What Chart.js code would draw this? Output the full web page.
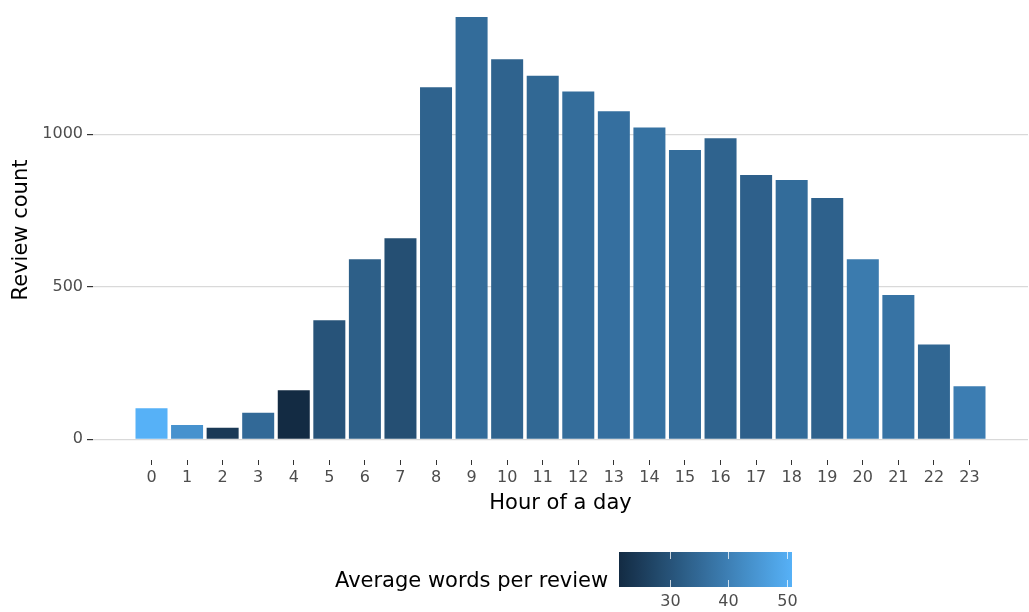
<!DOCTYPE html>
<html>
<head>
<meta charset="utf-8">
<script src="https://cdn.jsdelivr.net/npm/chart.js@4.4.0/dist/chart.umd.min.js"></script>
<style>
  html, body { margin: 0; padding: 0; background: #ffffff; }
  #wrap { width: 1029px; height: 612px; }
</style>
</head>
<body>
<div id="wrap"><canvas id="chart" width="1029" height="612"></canvas></div>
<script>
// hour of the day, review count, average words per review (fill colour)
var hours = [0, 1, 2, 3, 4, 5, 6, 7, 8, 9, 10, 11, 12, 13, 14, 15, 16, 17, 18, 19, 20, 21, 22, 23];
var reviewCounts = [102, 47, 38, 87, 161, 390, 590, 659, 1154, 1384, 1246, 1192,
                    1140, 1075, 1022, 948, 987, 866, 850, 791, 590, 473, 311, 174];
var avgWords = [50.9, 44.1, 24.5, 35.1, 21.3, 30.1, 32.7, 29.2, 33.6, 35.6, 33.6, 34.7,
                35.8, 36.4, 36.9, 35.8, 33.6, 33.1, 35.6, 33.3, 38.9, 37.3, 34.5, 39.5];
var yTicks = [0, 500, 1000];
var legendTicks = [30, 40, 50];

var FONT = '"DejaVu Sans", "Liberation Sans", sans-serif';
var LOW = [0x13, 0x2B, 0x43];
var HIGH = [0x56, 0xB1, 0xF7];
var wordsMin = Math.min.apply(null, avgWords);
var wordsMax = Math.max.apply(null, avgWords);

function fillFor(v) {
    var t = (v - wordsMin) / (wordsMax - wordsMin);
    t = Math.max(0, Math.min(1, t));
    var c = [];
    for (var k = 0; k < 3; k++) {
        c.push(Math.round(LOW[k] + (HIGH[k] - LOW[k]) * t));
    }
    return 'rgb(' + c.join(',') + ')';
}

// colourbar legend under the plot, drawn by hand
var colourLegend = {
    id: 'colourLegend',
    afterDraw: function(chart) {
        var ctx = chart.ctx;
        var left = 619, right = 792, top = 552, bottom = 587;

        ctx.save();
        ctx.fillStyle = '#000000';
        ctx.font = '21px ' + FONT;
        ctx.textAlign = 'left';
        ctx.textBaseline = 'alphabetic';
        ctx.fillText('Average words per review', 335, 587);

        var grad = ctx.createLinearGradient(left, 0, right, 0);
        for (var i = 0; i <= 20; i++) {
            grad.addColorStop(i / 20, fillFor(wordsMin + (wordsMax - wordsMin) * i / 20));
        }
        ctx.fillStyle = grad;
        ctx.fillRect(left, top, right - left, bottom - top);

        ctx.strokeStyle = 'rgba(255,255,255,0.75)';
        ctx.lineWidth = 1;
        ctx.fillStyle = '#4d4d4d';
        ctx.font = '16px ' + FONT;
        ctx.textAlign = 'center';
        ctx.textBaseline = 'top';
        legendTicks.forEach(function(v) {
            var x = Math.round(left + (v - wordsMin) / (wordsMax - wordsMin) * (right - left)) + 0.5;
            ctx.beginPath();
            ctx.moveTo(x, top);
            ctx.lineTo(x, top + 7);
            ctx.moveTo(x, bottom - 7);
            ctx.lineTo(x, bottom);
            ctx.stroke();
            ctx.fillText(String(v), x, 594);
        });
        ctx.restore();
    }
};

new Chart(document.getElementById('chart'), {
    type: 'bar',
    data: {
        datasets: [{
            data: hours.map(function(h, i) { return {x: h, y: reviewCounts[i]}; }),
            backgroundColor: avgWords.map(fillFor),
            borderWidth: 0,
            categoryPercentage: 0.9,
            barPercentage: 1.0
        }]
    },
    options: {
        responsive: false,
        animation: false,
        layout: {padding: {left: 0, right: 1, top: 0, bottom: 92}},
        plugins: {
            legend: {display: false},
            tooltip: {enabled: false}
        },
        scales: {
            x: {
                type: 'linear',
                min: -1.645,
                max: 24.645,
                offset: false,
                afterBuildTicks: function(scale) {
                    scale.ticks = hours.map(function(h) { return {value: h}; });
                },
                afterFit: function(scale) {
                    scale.height = 60;
                    scale.paddingLeft = 0;
                    scale.paddingRight = 0;
                },
                grid: {offset: false, drawOnChartArea: false, drawTicks: true, tickLength: 5, tickColor: '#333333'},
                border: {display: false},
                ticks: {
                    color: '#4d4d4d',
                    font: {family: FONT, size: 16},
                    padding: 3,
                    autoSkip: false,
                    maxRotation: 0,
                    callback: function(v) { return String(v); }
                },
                title: {
                    display: true,
                    text: 'Hour of a day',
                    color: '#000000',
                    font: {family: FONT, size: 21},
                    padding: {top: 0, bottom: 4}
                }
            },
            y: {
                min: -68,
                max: 1440,
                afterBuildTicks: function(scale) {
                    scale.ticks = yTicks.map(function(v) { return {value: v}; });
                },
                afterFit: function(scale) {
                    scale.width = 93;
                    scale.paddingTop = 0;
                    scale.paddingBottom = 0;
                },
                grid: {color: '#d9d9d9', lineWidth: 1.2, drawTicks: true, tickLength: 6, tickColor: '#333333'},
                border: {display: false},
                ticks: {
                    color: '#4d4d4d',
                    font: {family: FONT, size: 16},
                    padding: 4,
                    callback: function(v) { return String(v); }
                },
                title: {
                    display: true,
                    text: 'Review count',
                    color: '#000000',
                    font: {family: FONT, size: 21},
                    padding: {top: 9, bottom: 0}
                }
            }
        }
    },
    plugins: [colourLegend]
});
</script>
</body>
</html>
